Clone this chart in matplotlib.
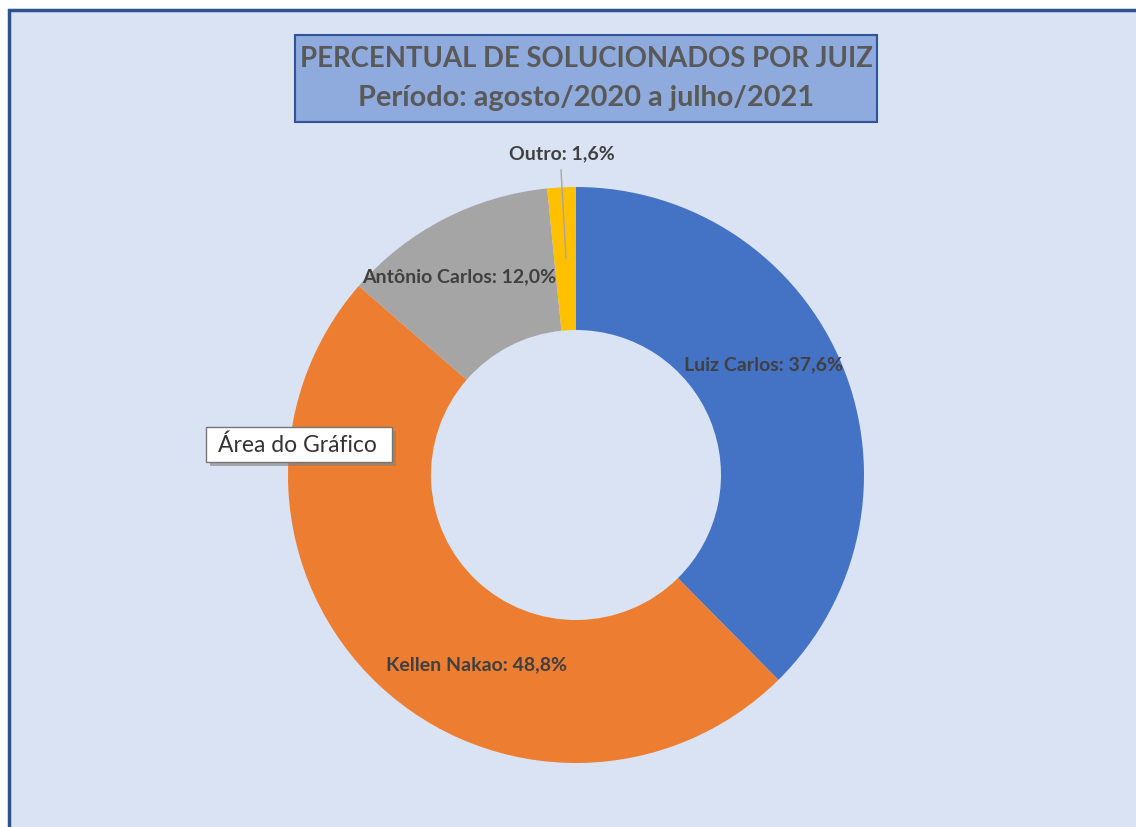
import matplotlib
matplotlib.use("Agg")
import matplotlib.pyplot as plt
from matplotlib.patches import Rectangle

# ---- data ----
categories = ["Luiz Carlos", "Kellen Nakao", "Antônio Carlos", "Outro"]
values = [37.6, 48.8, 12.0, 1.6]
colors = ["#4472C4", "#ED7D31", "#A5A5A5", "#FFC000"]
title_line1 = "PERCENTUAL DE SOLUCIONADOS POR JUIZ"
title_line2 = "Período: agosto/2020 a julho/2021"
tooltip_text = "Área do Gráfico"

W, H = 1136, 827
fig = plt.figure(figsize=(W / 100, H / 100), dpi=100)
fig.patch.set_facecolor("white")
ax = fig.add_axes([0, 0, 1, 1])

def py(y):
    return H - y

# chart area background with border (left/top visible)
ax.add_patch(Rectangle((9, py(900)), 1200, 900 - 10, facecolor="#DAE3F3",
                       edgecolor="#2F528F", linewidth=2.5, zorder=0))

# donut
cx, cy, R = 576, py(475), 288
ax.pie(values, colors=colors, startangle=90, counterclock=False,
       center=(cx, cy), radius=R, frame=True,
       wedgeprops=dict(width=R - 145, edgecolor="none", linewidth=0))
ax.set_xlim(0, W)
ax.set_ylim(0, H)
ax.set_aspect("equal")
ax.axis("off")

font = ["Lato", "DejaVu Sans"]
lbl_color = "#404040"
label_pos = [(763, 365), (477, 665), (459, 277), (562, 154)]
for name, v, (x, y) in zip(categories, values, label_pos):
    txt = f"{name}: {v:.1f}%".replace(".", ",")
    ax.text(x, py(y), txt, ha="center", va="center", fontsize=14,
            fontweight="bold", color=lbl_color, family=font, zorder=5)

# leader line for Outro
ax.plot([561, 566], [py(170), py(258)], color="#A6A6A6", lw=1, zorder=4)

# title box
ax.add_patch(Rectangle((295, py(122)), 877 - 295, 122 - 35, facecolor="#8FAADC",
                       edgecolor="#2F5597", linewidth=1.5, zorder=3))
ax.text(586, py(59), title_line1, ha="center", va="center", fontsize=19.8,
        fontweight="bold", color="#595959", family=font, zorder=4)
ax.text(586, py(98), title_line2, ha="center", va="center", fontsize=20.8,
        fontweight="bold", color="#595959", family=font, zorder=4)

# tooltip
ax.add_patch(Rectangle((210, py(466)), 186, 35, facecolor="#7F7F7F",
                       edgecolor="none", alpha=0.6, zorder=5))
ax.add_patch(Rectangle((206, py(462)), 186, 35, facecolor="white",
                       edgecolor="#767676", linewidth=1, zorder=6))
ax.text(297, py(445), tooltip_text, ha="center", va="center", fontsize=16.5,
        color="#333333", family=font, zorder=7)

fig.savefig("out.png", dpi=100, facecolor="white")
